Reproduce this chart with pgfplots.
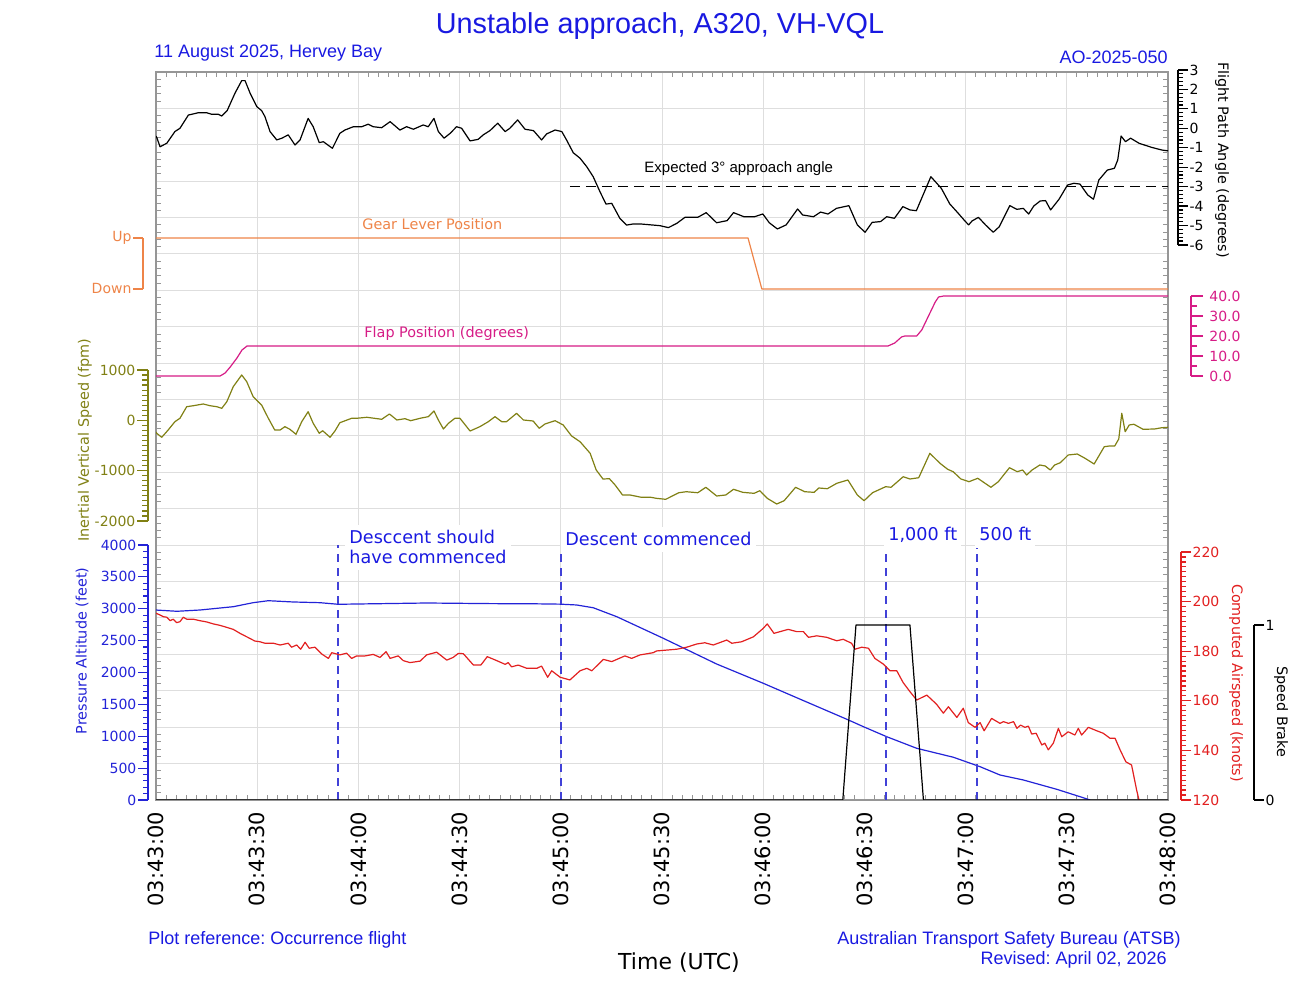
\documentclass[border=0pt]{standalone}
\usepackage{pgfplots}
\pgfplotsset{compat=1.18}
\usepackage{fontspec}
\setmainfont{DejaVu Sans}
\newfontfamily\arialfont{Liberation Sans}
\frenchspacing

\definecolor{hdrblue}{RGB}{25,25,225}
\definecolor{altblue}{RGB}{35,35,215}
\definecolor{dashblue}{RGB}{65,65,215}
\definecolor{gearor}{RGB}{238,132,72}
\definecolor{flapmag}{RGB}{214,28,134}
\definecolor{ivsol}{RGB}{128,128,20}
\definecolor{casred}{RGB}{226,32,32}
\definecolor{gridgray}{RGB}{222,222,222}
\definecolor{framegray}{RGB}{150,150,150}

\newcommand\tk{\fontsize{7}{8.4}\selectfont}
\newcommand\lab{\fontsize{7.2}{8.6}\selectfont}
\newcommand\ann{\fontsize{8.8}{10}\selectfont}

\pgfplotsset{
  frameax/.style={scale only axis, width=506pt, height=364pt,
    at={(78pt,100pt)}, anchor=south west, xmin=0, xmax=300},
  dataax/.style={frameax, hide axis},
  scaleax/.style={scale only axis, width=1pt, xmin=0, xmax=1,
    axis x line=none, tick align=outside,
    major tick length=5pt, minor tick length=2.5pt,
    yticklabel style={font=\tk, inner xsep=0.6pt}},
  colorax/.style={axis line style={#1, line width=0.6pt},
    tick style={#1, line width=0.6pt}, yticklabel style={text=#1}},
  trace/.style={#1, line width=0.6pt, line join=round},
}

\begin{document}
\begin{tikzpicture}
\useasboundingbox (0,0) rectangle (650pt,500pt);

% ---------- plot frame, grid and time axis ----------
\begin{axis}[frameax, ymin=0, ymax=20,
  xtick={0,30,...,300}, minor x tick num=9,
  ytick={0,1,...,20}, minor y tick num=4, yticklabels={},
  xticklabels={03:43:00,03:43:30,03:44:00,03:44:30,03:45:00,03:45:30,03:46:00,03:46:30,03:47:00,03:47:30,03:48:00},
  xticklabel style={rotate=90, anchor=east, font=\fontsize{10.5}{12}\selectfont},
  xticklabel shift=2.5pt,
  grid=major, grid style={gridgray, line width=0.5pt},
  axis line style={framegray, line width=0.7pt},
  tick style={framegray, line width=0.5pt},
  tick align=inside, major tick length=0pt, minor tick length=2.5pt]
\end{axis}

% ---------- headings and footers ----------
\node[anchor=base, text=hdrblue, font=\arialfont\fontsize{14.4}{16}\selectfont] at (330pt,483pt) {Unstable approach, A320, VH-VQL};
\node[anchor=base west, inner sep=0pt, text=hdrblue, font=\arialfont\fontsize{9}{11}\selectfont] at (77pt,471pt) {11 August 2025, Hervey Bay};
\node[anchor=base east, inner sep=0pt, text=hdrblue, font=\arialfont\fontsize{9}{11}\selectfont] at (584pt,468pt) {AO-2025-050};
\node[anchor=base west, inner sep=0pt, text=hdrblue, font=\arialfont\fontsize{9}{11}\selectfont] at (74pt,27.5pt) {Plot reference: Occurrence flight};
\node[anchor=base east, inner sep=0pt, text=hdrblue, font=\arialfont\fontsize{9}{11}\selectfont] at (590.5pt,27.5pt) {Australian Transport Safety Bureau (ATSB)};
\node[anchor=base east, inner sep=0pt, text=hdrblue, font=\arialfont\fontsize{9}{11}\selectfont] at (583.5pt,17.5pt) {Revised: April 02, 2026};
\node[anchor=base, inner sep=0pt, font=\fontsize{11}{13}\selectfont] at (339.5pt,15pt) {Time (UTC)};

% ---------- in-plot labels ----------
\node[anchor=base west, inner sep=0pt, font=\arialfont\fontsize{7.5}{9}\selectfont] at (322pt,413.5pt) {Expected 3° approach angle};
\node[anchor=base west, inner sep=0pt, text=gearor, font=\lab] at (181pt,385pt) {Gear Lever Position};
\node[anchor=base west, inner sep=0pt, text=flapmag, font=\lab] at (182pt,331pt) {Flap Position (degrees)};
\node[anchor=base west, fill=white, inner xsep=2pt, inner ysep=3pt, text=hdrblue, font=\ann] at (172.5pt,228pt) {Desccent should};
\node[anchor=base west, fill=white, inner xsep=2pt, inner ysep=3pt, text=hdrblue, font=\ann] at (172.5pt,218pt) {have commenced};
\node[anchor=base west, fill=white, inner xsep=2pt, inner ysep=3pt, text=hdrblue, font=\ann] at (280.5pt,227pt) {Descent commenced};
\node[anchor=base west, fill=white, inner xsep=2pt, inner ysep=3pt, text=hdrblue, font=\ann] at (442pt,229.5pt) {1,000 ft};
\node[anchor=base west, fill=white, inner xsep=2pt, inner ysep=3pt, text=hdrblue, font=\ann] at (487.5pt,229.5pt) {500 ft};

% ---------- scale titles ----------
\node[rotate=-90, font=\lab] at (611pt,420pt) {Flight Path Angle (degrees)};
\node[rotate=90, text=ivsol, font=\lab] at (42.5pt,280pt) {Inertial Vertical Speed (fpm)};
\node[rotate=90, text=altblue, font=\lab] at (41pt,174.5pt) {Pressure Altitude (feet)};
\node[rotate=-90, text=casred, font=\lab] at (618pt,158.5pt) {Computed Airspeed (knots)};
\node[rotate=-90, font=\lab] at (640.5pt,144pt) {Speed Brake};

% ---------- flight path angle (degrees) ----------
\begin{axis}[dataax, ymin=-34.553, ymax=2.896]
\addplot[trace=black] coordinates {
(0,-0.40)(0.2,-0.46)(1.2,-0.95)(3.2,-0.77)(5.6,-0.17)(7.1,0.00)(9.6,0.68)(11.1,0.74)(12.5,0.80)(15.0,0.80)
(16.5,0.72)(18.5,0.72)(19.5,0.63)(21.1,0.91)(23.4,1.80)(25.4,2.45)(26.4,2.45)(27.9,1.80)(29.9,1.11)(31.3,0.91)
(32.3,0.60)(33.8,-0.17)(35.8,-0.60)(37.3,-0.51)(39.2,-0.34)(41.2,-0.86)(42.7,-0.60)(45.1,0.51)(46.6,0.08)(48.4,-0.74)
(49.6,-0.69)(52.3,-1.03)(54.5,-0.26)(56.0,-0.09)(58.5,0.08)(61.0,0.08)(62.9,0.21)(64.4,0.08)(66.9,0.03)(69.4,0.34)
(72.3,-0.09)(74.3,0.08)(76.3,-0.05)(79.2,0.17)(80.7,0.08)(82.4,0.51)(83.7,-0.17)(85.4,-0.51)(87.2,-0.26)(89.1,0.08)
(90.6,0.00)(93.1,-0.65)(95.5,-0.57)(97.0,-0.34)(99.0,-0.12)(101.3,0.26)(103.5,-0.17)(104.9,0.00)(107.2,0.43)(109.4,-0.05)
(111.9,-0.12)(114.3,-0.60)(115.8,-0.29)(118.3,-0.09)(120.3,-0.17)(121.7,-0.60)(123.7,-1.26)(125.7,-1.54)(127.7,-1.98)(129.6,-2.49)
(131.6,-3.26)(133.4,-3.90)(135.1,-3.86)(137.5,-4.63)(139.5,-4.98)(141.5,-4.92)(143.5,-4.92)(149.4,-5.01)(151.9,-5.11)(154.4,-4.89)
(156.8,-4.58)(160.6,-4.58)(163.1,-4.34)(166.2,-4.86)(169.3,-4.75)(171.2,-4.34)(174.3,-4.55)(177.4,-4.55)(179.9,-4.41)(181.8,-4.86)
(184.2,-5.18)(186.8,-4.97)(190.2,-4.15)(191.7,-4.46)(194.9,-4.55)(197.0,-4.31)(199.2,-4.41)(201.7,-4.12)(205.4,-3.98)(207.9,-4.97)
(210.2,-5.35)(212.3,-4.84)(214.8,-4.80)(216.6,-4.55)(218.9,-4.63)(221.4,-4.03)(223.5,-4.20)(225.4,-4.24)(229.7,-2.49)(232.8,-3.09)
(235.3,-3.89)(237.8,-4.37)(239.7,-4.75)(240.9,-4.97)(241.9,-4.77)(243.8,-4.58)(245.9,-4.97)(248.2,-5.35)(250.0,-5.06)(253.1,-3.98)
(255.2,-4.17)(257.1,-4.12)(258.7,-4.41)(260.2,-4.00)(262.1,-3.74)(263.7,-3.72)(265.2,-4.20)(267.7,-3.65)(270.2,-2.92)(272.1,-2.83)
(273.9,-2.87)(276.2,-3.43)(277.9,-3.65)(279.5,-2.66)(282.0,-2.15)(284.1,-2.06)(285.1,-1.63)(286.1,-0.40)(287.4,-0.69)(288.9,-0.51)
(291.4,-0.77)(295.1,-0.98)(298.2,-1.12)(300,-1.16)};
\addplot[black, line width=0.6pt, dash pattern=on 5pt off 3pt] coordinates {(122.7,-3) (300,-3)};
\end{axis}

% ---------- gear lever (1 = up, 0 = down) ----------
\begin{axis}[dataax, ymin=-10.0196, ymax=4.2549]
\addplot[trace=gearor] coordinates {(0,1) (175.5,1) (179.6,0) (300,0)};
\end{axis}

% ---------- flap position (degrees) ----------
\begin{axis}[dataax, ymin=-212, ymax=152]
\addplot[trace=flapmag] coordinates {
(0,0)(19,0)(20.5,1.5)(22,4.5)(24,9)(25.5,13)(27,15)(217,15)(219,16.5)(221,19.5)(222,20)
(225.5,20)(227,23)(229,30)(231,37)(232,39.5)(233.5,40)(300,40)};
\end{axis}

% ---------- inertial vertical speed (fpm) ----------
\begin{axis}[dataax, ymin=-7543.7, ymax=6919.9]
\addplot[trace=ivsol] coordinates {
(0,-230)(0.2,-258)(1.7,-338)(3.6,-193)(5.6,-28)(7.1,40)(9.1,270)(11.1,290)(14.0,324)(16.0,290)
(18.0,270)(19.5,238)(21.0,370)(22.9,668)(25.4,900)(26.9,767)(28.8,469)(31.3,304)(33.3,40)(35.2,-193)
(36.8,-193)(38.2,-127)(39.7,-179)(41.5,-278)(43.2,-28)(45.1,171)(46.6,-60)(48.4,-258)(49.4,-207)(51.6,-338)
(53.1,-207)(54.5,-48)(58.0,40)(59.5,40)(62.5,60)(66.9,20)(69.2,125)(71.4,6)(73.8,32)(75.5,-8)
(78.3,40)(80.7,72)(82.4,185)(83.7,6)(85.2,-173)(86.7,-60)(88.6,40)(90.1,40)(93.1,-213)(96.0,-127)
(98.5,-28)(100.5,72)(102.5,-28)(103.9,-28)(106.9,139)(108.9,6)(111.8,-14)(113.6,-159)(115.3,-74)(118.3,-8)
(120.7,-93)(123.2,-312)(125.7,-425)(128.7,-656)(130.5,-988)(132.5,-1167)(134.4,-1160)(136.1,-1286)(138.3,-1484)(140.5,-1484)
(143.9,-1530)(146.7,-1530)(148.3,-1550)(151.1,-1570)(155.0,-1439)(157.2,-1419)(160.6,-1439)(163.0,-1331)(166.2,-1504)(168.9,-1484)
(171.2,-1371)(173.9,-1431)(177.3,-1451)(179.0,-1399)(181.2,-1550)(184.0,-1663)(186.2,-1598)(189.6,-1331)(192.3,-1419)(195.1,-1431)
(196.5,-1345)(199.0,-1359)(201.8,-1252)(205.1,-1186)(207.9,-1484)(209.9,-1598)(212.4,-1439)(216.3,-1319)(217.9,-1331)(221.5,-1121)
(223.5,-1166)(226.1,-1141)(229.4,-656)(232.4,-854)(234.7,-974)(236.3,-1021)(238.6,-1166)(241.0,-1220)(243.6,-1152)(247.5,-1331)
(249.7,-1220)(253.0,-942)(255.3,-1021)(256.9,-988)(258.1,-1087)(259.7,-988)(262.0,-888)(263.6,-908)(265.1,-988)(266.4,-888)
(268.1,-842)(270.4,-689)(273.1,-670)(275.4,-755)(278.1,-868)(281.1,-525)(282.6,-511)(284.2,-511)(285.4,-372)(286.3,139)
(287.3,-227)(288.5,-93)(289.9,-79)(292.6,-179)(296.0,-173)(298.2,-147)(300,-139)};
\end{axis}

% ---------- pressure altitude (feet) and event markers ----------
\begin{axis}[dataax, ymin=0, ymax=11419.6]
\addplot[trace=altblue] coordinates {
(0,2980)(6.2,2960)(13.0,2980)(22.9,3032)(28.8,3095)(33.3,3126)(40.7,3106)(48.6,3095)(54.0,3070)(80.2,3090)
(100.0,3080)(109.9,3079)(119.8,3072)(124.7,3059)(129.6,3016)(136.6,2875)(150.4,2536)(166.2,2133)(180.0,1831)(189.9,1605)
(204.8,1266)(209.7,1150)(216.6,993)(225.5,811)(236.4,670)(244.3,522)(250.2,392)(257.1,314)(267.0,168)(273.9,52)(276.9,0)};
\addplot[dashblue, line width=0.7pt, dash pattern=on 4pt off 3pt] coordinates {(54,0) (54,4000)};
\addplot[dashblue, line width=0.7pt, dash pattern=on 4pt off 3pt] coordinates {(120,0) (120,3950)};
\addplot[dashblue, line width=0.7pt, dash pattern=on 4pt off 3pt] coordinates {(216.4,0) (216.4,3950)};
\addplot[dashblue, line width=0.7pt, dash pattern=on 4pt off 3pt] coordinates {(243.4,0) (243.4,3960)};
\end{axis}

% ---------- computed airspeed (knots) ----------
\begin{axis}[dataax, ymin=120, ymax=413.55]
\addplot[trace=casred] coordinates {
(0,195.3)(1.2,194.6)(2.2,193.9)(3.2,193.7)(4.2,192.3)(5.1,192.9)(6.1,191.5)(7.1,191.9)(8.1,193.7)(9.1,192.9)
(11.1,192.9)(13.0,192.3)(15.0,191.8)(17.0,191.0)(19.0,190.4)(21.0,189.6)(22.9,188.8)(24.9,187.2)(26.9,185.8)(29.3,184.1)
(30.8,183.8)(32.3,183.2)(34.8,183.2)(36.8,182.5)(39.2,183.2)(40.2,181.6)(41.7,182.5)(42.9,180.8)(44.2,183.6)(45.4,181.2)
(47.1,181.6)(49.1,178.9)(51.1,177.1)(52.1,179.4)(54.5,178.5)(56.5,179.2)(58.0,177.1)(59.5,178.1)(62.0,178.1)(64.4,178.7)
(66.4,177.5)(68.2,179.8)(69.4,177.1)(71.8,178.1)(73.3,176.2)(75.3,175.4)(78.3,176.0)(80.2,178.5)(83.2,179.6)(86.2,176.4)
(88.1,177.5)(89.6,179.1)(91.1,179.0)(94.1,174.4)(96.3,174.4)(98.2,177.8)(101.0,176.2)(103.5,174.7)(104.4,175.4)(105.4,173.7)
(107.4,174.4)(109.9,173.1)(112.9,173.1)(114.3,174.0)(116.1,169.5)(117.3,172.1)(119.8,169.5)(122.7,168.4)(125.7,172.1)(127.7,173.1)
(129.2,172.1)(132.6,176.7)(135.1,175.8)(139.0,178.1)(141.0,177.1)(143.5,178.5)(147.4,179.4)(148.4,180.1)(154.4,180.8)(157.3,181.6)
(160.3,182.9)(162.7,183.4)(165.2,182.5)(169.2,184.5)(170.7,183.2)(173.6,183.8)(177.1,185.8)(180.0,189.2)(181.2,191.0)(183.2,187.2)
(187.4,188.8)(189.9,187.9)(191.9,187.9)(193.4,185.6)(195.9,186.2)(198.8,185.6)(201.8,184.2)(203.7,184.8)(206.2,183.2)(207.2,180.8)
(209.2,181.6)(211.2,181.2)(213.1,177.1)(215.6,174.8)(217.6,172.1)(219.6,172.1)(221.5,167.3)(223.5,163.7)(225.5,160.3)(228.5,162.3)
(231.4,158.6)(233.4,155.0)(234.9,157.6)(237.4,153.3)(239.3,157.0)(240.8,151.2)(242.8,149.3)(244.3,151.2)(245.5,147.9)(247.7,152.9)
(250.2,150.9)(251.2,151.6)(252.7,150.9)(254.2,151.6)(255.2,148.9)(256.3,150.2)(257.6,149.3)(258.6,149.8)(259.6,146.6)(260.9,146.9)
(262.6,142.2)(263.5,142.9)(264.5,140.2)(266.0,142.9)(267.5,148.9)(268.5,145.5)(270.4,147.5)(272.4,146.2)(273.4,148.9)(274.4,146.2)
(276.4,149.3)(278.9,147.9)(280.8,146.9)(282.8,144.9)(284.3,144.9)(285.8,140.2)(287.5,135.4)(289.2,134.1)(290.7,124.0)(291.4,120.0)};
\end{axis}

% ---------- speed brake (0/1) ----------
\begin{axis}[dataax, ymin=0, ymax=4.16]
\addplot[trace=black] coordinates {(0,0) (203.6,0) (207.5,1) (223.5,1) (227.5,0) (300,0)};
\end{axis}

% ---------- side scales ----------
\begin{axis}[scaleax, colorax=black, height=87.5pt, at={(589pt,377.5pt)}, anchor=south east,
  axis y line*=right, ymin=-6, ymax=3, ytick={-6,-5,...,3}, minor y tick num=4,
  yticklabels={-6,-5,-4,-3,-2,-1,0,1,2,3}]
\end{axis}

\begin{axis}[scaleax, colorax=gearor, height=25.5pt, at={(71.5pt,355.5pt)}, anchor=south west,
  axis y line*=left, ymin=0, ymax=1, ytick={0,1}, yticklabels={Down,Up}]
\end{axis}

\begin{axis}[scaleax, colorax=flapmag, height=40pt, at={(595.5pt,312pt)}, anchor=south east,
  axis y line*=right, ymin=0, ymax=40, ytick={0,10,...,40}, minor y tick num=1,
  major tick length=6pt, minor tick length=3pt,
  yticklabel style={inner xsep=3pt},
  yticklabels={0.0,10.0,20.0,30.0,40.0}]
\end{axis}

\begin{axis}[scaleax, colorax=ivsol, height=75.5pt, at={(74pt,239.5pt)}, anchor=south west,
  axis y line*=left, ymin=-2000, ymax=1000, ytick={-2000,-1000,0,1000}, minor y tick num=9,
  major tick length=5.5pt, minor tick length=3pt,
  yticklabels={-2000,-1000,0,1000}]
\end{axis}

\begin{axis}[scaleax, colorax=altblue, height=127.5pt, at={(74pt,100pt)}, anchor=south west,
  axis y line*=left, ymin=0, ymax=4000, ytick={0,500,...,4000}, minor y tick num=4,
  yticklabels={0,500,1000,1500,2000,2500,3000,3500,4000}]
\end{axis}

\begin{axis}[scaleax, colorax=casred, height=124pt, at={(590.5pt,100pt)}, anchor=south east,
  axis y line*=right, ymin=120, ymax=220, ytick={120,140,...,220}, minor y tick num=9,
  yticklabels={120,140,160,180,200,220}]
\end{axis}

\begin{axis}[scaleax, colorax=black, height=87.5pt, at={(627pt,100pt)}, anchor=south east,
  axis y line*=right, ymin=0, ymax=1, ytick={0,1}, yticklabels={0,1}]
\end{axis}

\end{tikzpicture}
\end{document}
